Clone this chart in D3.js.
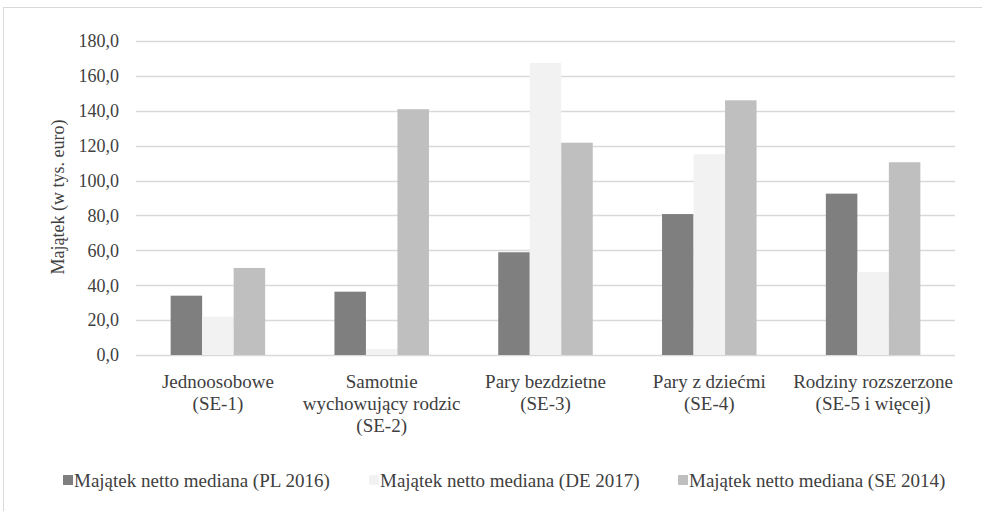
<!DOCTYPE html>
<html>
<head>
<meta charset="utf-8">
<script src="https://cdn.jsdelivr.net/npm/d3@7"></script>
<style>
  html, body { margin: 0; padding: 0; background: #fff; }
  svg { display: block; }
</style>
</head>
<body>
<svg id="chart" width="982" height="511"></svg>
<script>
// Household groups (two-line / three-line labels)
const categories = [
  ["Jednoosobowe", "(SE-1)"],
  ["Samotnie", "wychowujący rodzic", "(SE-2)"],
  ["Pary bezdzietne", "(SE-3)"],
  ["Pary z dziećmi", "(SE-4)"],
  ["Rodziny rozszerzone", "(SE-5 i więcej)"]
];
const seriesNames = [
  "Majątek netto mediana (PL 2016)",
  "Majątek netto mediana (DE 2017)",
  "Majątek netto mediana (SE 2014)"
];
const valuesPL = [34.0, 36.3, 58.9, 80.8, 92.5];
const valuesDE = [22.0, 3.4, 167.4, 115.1, 47.6];
const valuesSE = [49.9, 140.9, 121.7, 146.0, 110.5];
const yTicks = [0, 20, 40, 60, 80, 100, 120, 140, 160, 180];
const yTitle = "Majątek (w tys. euro)";
const colors = ["#7f7f7f", "#f2f2f2", "#bfbfbf"];

const FONT = "'Liberation Serif', 'Times New Roman', Tinos, 'DejaVu Serif', 'Noto Serif', serif";
const series = [valuesPL, valuesDE, valuesSE];
const svg = d3.select("#chart")
  .attr("font-family", FONT)
  .style("font-family", FONT);

// outer frame
svg.append("rect")
  .attr("x", 3.5).attr("y", 7.5)
  .attr("width", 1000).attr("height", 520)
  .attr("fill", "#fff").attr("stroke", "#d9d9d9").attr("stroke-width", 1);

const plot = { left: 136, right: 955, top: 41, bottom: 355 };

const x = d3.scaleBand()
  .domain(d3.range(categories.length))
  .range([plot.left, plot.right])
  .paddingInner(0.423)
  .paddingOuter(0.2115);

const xs = d3.scaleBand()
  .domain(d3.range(series.length))
  .range([0, x.bandwidth()])
  .padding(0);

const y = d3.scaleLinear().domain([0, 180]).range([plot.bottom, plot.top]);

// gridlines
svg.append("g").selectAll("line")
  .data(yTicks)
  .join("line")
  .attr("x1", plot.left).attr("x2", plot.right)
  .attr("y1", d => Math.round(y(d)) + 0.5).attr("y2", d => Math.round(y(d)) + 0.5)
  .attr("stroke", "#d9d9d9").attr("stroke-width", 1.3);

// y tick labels
svg.append("g").selectAll("text")
  .data(yTicks)
  .join("text")
  .attr("x", 119)
  .attr("y", d => y(d))
  .attr("dy", "0.35em")
  .attr("text-anchor", "end")
  .attr("fill", "#404040")
  .style("font-size", "18px")
  .text(d => d3.format(".1f")(d).replace(".", ","));

// y axis title
svg.append("text")
  .attr("transform", "translate(64,197) rotate(-90)")
  .attr("text-anchor", "middle")
  .attr("fill", "#404040")
  .style("font-size", "18px")
  .text(yTitle);

// bars
series.forEach((vals, si) => {
  svg.append("g").selectAll("rect")
    .data(vals)
    .join("rect")
    .attr("x", (d, i) => x(i) + xs(si))
    .attr("width", xs.bandwidth())
    .attr("y", d => y(d))
    .attr("height", d => y(0) - y(d))
    .attr("fill", colors[si]);
});

// category labels
const catG = svg.append("g");
categories.forEach((lines, i) => {
  const t = catG.append("text")
    .attr("text-anchor", "middle")
    .attr("fill", "#404040")
    .style("font-size", "19px");
  lines.forEach((ln, li) => {
    t.append("tspan")
      .attr("x", x(i) + x.bandwidth() / 2)
      .attr("y", 381 + li * 22)
      .attr("dy", "0.35em")
      .text(ln);
  });
});

// legend
const legendX = [63, 369, 678];
const lg = svg.append("g");
seriesNames.forEach((name, i) => {
  lg.append("rect")
    .attr("x", legendX[i]).attr("y", 475)
    .attr("width", 10).attr("height", 10)
    .attr("fill", colors[i]);
  lg.append("text")
    .attr("x", legendX[i] + 11)
    .attr("y", 480)
    .attr("dy", "0.35em")
    .attr("fill", "#404040")
    .style("font-size", "19px")
    .text(name);
});
</script>
</body>
</html>
